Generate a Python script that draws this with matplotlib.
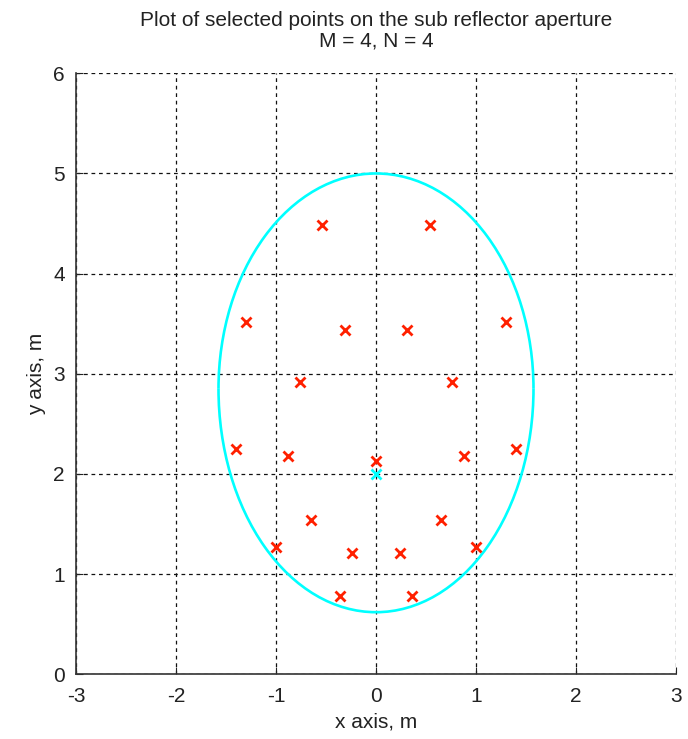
import matplotlib.pyplot as plt
from matplotlib.patches import Arc
import numpy as np

plt.rcParams['font.family'] = ['Liberation Sans', 'DejaVu Sans']
plt.rcParams['axes.unicode_minus'] = False

# selected points on the sub reflector aperture (x, y in m)
pts_x = [-0.54, 0.54, -1.30, 1.30, -0.31, 0.31, -0.76, 0.76,
         -1.40, 1.40, -0.88, 0.88, 0.00, -0.65, 0.65,
         -1.00, 1.00, -0.24, 0.24, -0.36, 0.36]
pts_y = [4.49, 4.49, 3.52, 3.52, 3.44, 3.44, 2.92, 2.92,
         2.25, 2.25, 2.18, 2.18, 2.13, 1.54, 1.54,
         1.27, 1.27, 1.21, 1.21, 0.78, 0.78]

# aperture centre point
centre_x = [0.0]
centre_y = [2.0]

# aperture rim: half width, widest height, upper and lower half heights
rim_cx = 0.0
rim_cy = 2.85
rim_a = 1.575
rim_b_top = 2.15
rim_b_bot = 2.23

fig = plt.figure(figsize=(6.88, 7.39), dpi=100)
ax = fig.add_axes([76/688, 64.7/739, 600/688, 601/739])

ax.add_patch(Arc((rim_cx, rim_cy), 2*rim_a, 2*rim_b_top, theta1=0, theta2=180,
                 color='cyan', lw=1.9, zorder=3))
ax.add_patch(Arc((rim_cx, rim_cy), 2*rim_a, 2*rim_b_bot, theta1=180, theta2=360,
                 color='cyan', lw=1.9, zorder=3))

ax.plot(pts_x, pts_y, 'x', color='#ff2000', ms=6.5, mew=2, zorder=4)
ax.plot(centre_x, centre_y, 'x', color='cyan', ms=6.5, mew=2, zorder=4)

ax.set_xlim(-3, 3)
ax.set_ylim(0, 6)
ax.set_xticks(np.arange(-3, 4))
ax.set_yticks(np.arange(0, 7))
ax.grid(True, color='#111111', linestyle=(0, (3, 3)), linewidth=0.9)
ax.set_axisbelow(True)

for s in ['top', 'right']:
    ax.spines[s].set_visible(False)
for s in ['left', 'bottom']:
    ax.spines[s].set_color('#333333')
    ax.spines[s].set_linewidth(1.2)

ax.tick_params(direction='in', length=5, width=0.8, labelsize=15,
               colors='#222222')
ax.tick_params(axis='x', pad=9)
ax.tick_params(axis='y', pad=8)
ax.set_xlabel('x axis, m', fontsize=15, color='#222222', labelpad=5)
ax.set_ylabel('y axis, m', fontsize=15, color='#222222', labelpad=5)
ax.set_title('Plot of selected points on the sub reflector aperture\nM = 4, N = 4',
             fontsize=15, color='#222222', linespacing=1.15, pad=19)

plt.savefig('out.png', dpi=100)
